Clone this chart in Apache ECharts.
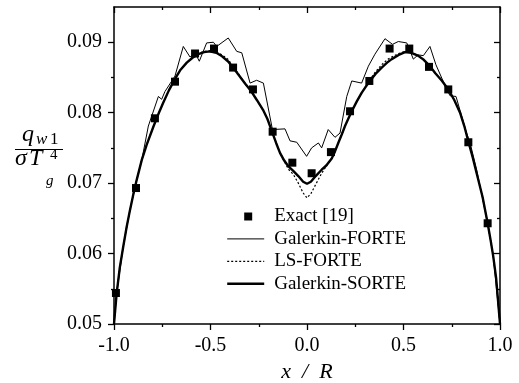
<!DOCTYPE html>
<html>
<head>
<meta charset="utf-8">
<script src="https://cdn.jsdelivr.net/npm/echarts@6/dist/echarts.min.js"></script>
<style>
  html, body { margin: 0; padding: 0; background: #fff; }
  #chart { width: 519px; height: 383px; }
</style>
</head>
<body>
<div id="chart"></div>
<script>
// ---- data ----
var xTicks = [-1.0, -0.5, 0.0, 0.5, 1.0];
var yTicks = [0.05, 0.06, 0.07, 0.08, 0.09];
var yMinorTicks = [0.055, 0.065, 0.075, 0.085];
var seriesNames = ['Exact [19]', 'Galerkin-FORTE', 'LS-FORTE', 'Galerkin-SORTE'];

var exactX = [-0.990, -0.886, -0.788, -0.684, -0.580, -0.482, -0.383, -0.280, -0.178, -0.076,
              0.024, 0.124, 0.223, 0.323, 0.428, 0.530, 0.632, 0.732, 0.836, 0.936];
var exactY = [0.0544, 0.0693, 0.0792, 0.0844, 0.0884, 0.0891, 0.0864, 0.0833, 0.0773, 0.0729,
              0.0714, 0.0744, 0.0802, 0.0845, 0.0891, 0.0891, 0.0865, 0.0833, 0.0758, 0.0643];

var forteX = [-1.000, -0.986, -0.952, -0.917, -0.882, -0.856, -0.822, -0.770, -0.753, -0.736,
              -0.684, -0.641, -0.606, -0.580, -0.558, -0.520, -0.485, -0.468, -0.408, -0.364,
              -0.338, -0.295, -0.261, -0.226, -0.179, -0.114, -0.088, -0.053, -0.002, 0.024,
              0.059, 0.076, 0.110, 0.145, 0.171, 0.206, 0.232, 0.283, 0.318, 0.352,
              0.404, 0.443, 0.473, 0.517, 0.551, 0.575, 0.603, 0.637, 0.668, 0.724,
              0.741, 0.772, 0.827, 0.845, 0.879, 0.936, 0.965, 1.000];
var forteY = [0.0500, 0.0544, 0.0610, 0.0662, 0.0705, 0.0733, 0.0781, 0.0823, 0.0819, 0.0830,
              0.0852, 0.0894, 0.0879, 0.0885, 0.0873, 0.0899, 0.0900, 0.0894, 0.0906, 0.0887,
              0.0885, 0.0842, 0.0846, 0.0842, 0.0776, 0.0777, 0.0760, 0.0758, 0.0738, 0.0750,
              0.0757, 0.0750, 0.0776, 0.0765, 0.0771, 0.0823, 0.0845, 0.0842, 0.0866, 0.0883,
              0.0905, 0.0897, 0.0901, 0.0899, 0.0876, 0.0882, 0.0881, 0.0894, 0.0868, 0.0833,
              0.0824, 0.0823, 0.0771, 0.0757, 0.0719, 0.0643, 0.0596, 0.0500];

var sorteX = [-1.000, -0.986, -0.970, -0.952, -0.935, -0.917, -0.900, -0.882, -0.856, -0.830,
              -0.796, -0.770, -0.745, -0.715, -0.684, -0.655, -0.623, -0.593, -0.563, -0.533,
              -0.503, -0.470, -0.440, -0.410, -0.383, -0.350, -0.320, -0.288, -0.260, -0.228,
              -0.205, -0.185, -0.160, -0.140, -0.118, -0.097, -0.070, -0.045, -0.020, 0.000,
              0.020, 0.045, 0.076, 0.100, 0.128, 0.145, 0.162, 0.180, 0.197, 0.215,
              0.232, 0.258, 0.283, 0.305, 0.326, 0.355, 0.387, 0.415, 0.439, 0.475,
              0.508, 0.540, 0.575, 0.605, 0.637, 0.665, 0.700, 0.732, 0.763, 0.793,
              0.815, 0.836, 0.858, 0.879, 0.910, 0.936, 0.952, 0.965, 0.980, 1.000];
var sorteY = [0.0500, 0.0544, 0.0580, 0.0610, 0.0637, 0.0662, 0.0684, 0.0705, 0.0733, 0.0755,
              0.0780, 0.0798, 0.0814, 0.0832, 0.0848, 0.0861, 0.0871, 0.0878, 0.0883, 0.0886,
              0.0887, 0.0885, 0.0880, 0.0873, 0.0864, 0.0852, 0.0841, 0.0830, 0.0818, 0.0804,
              0.0791, 0.0776, 0.0757, 0.0743, 0.0732, 0.0724, 0.0717, 0.0710, 0.0702, 0.0699,
              0.0702, 0.0710, 0.0719, 0.0725, 0.0735, 0.0745, 0.0757, 0.0769, 0.0781, 0.0792,
              0.0802, 0.0816, 0.0828, 0.0837, 0.0845, 0.0855, 0.0864, 0.0871, 0.0876, 0.0882,
              0.0886, 0.0885, 0.0881, 0.0875, 0.0866, 0.0856, 0.0845, 0.0833, 0.0818, 0.0800,
              0.0781, 0.0759, 0.0737, 0.0714, 0.0680, 0.0643, 0.0618, 0.0596, 0.0565, 0.0500];

var lsX = sorteX;
var lsY = [0.0500, 0.0544, 0.0580, 0.0610, 0.0637, 0.0662, 0.0684, 0.0705, 0.0733, 0.0755,
           0.0780, 0.0798, 0.0814, 0.0832, 0.0848, 0.0861, 0.0871, 0.0879, 0.0884, 0.0887,
           0.0888, 0.0886, 0.0882, 0.0876, 0.0866, 0.0853, 0.0841, 0.0830, 0.0818, 0.0804,
           0.0791, 0.0776, 0.0757, 0.0743, 0.0731, 0.0720, 0.0712, 0.0700, 0.0686, 0.0679,
           0.0685, 0.0698, 0.0714, 0.0724, 0.0735, 0.0745, 0.0757, 0.0769, 0.0781, 0.0792,
           0.0802, 0.0816, 0.0828, 0.0838, 0.0847, 0.0858, 0.0868, 0.0875, 0.0879, 0.0884,
           0.0887, 0.0886, 0.0881, 0.0875, 0.0866, 0.0856, 0.0845, 0.0833, 0.0818, 0.0800,
           0.0781, 0.0759, 0.0737, 0.0714, 0.0680, 0.0643, 0.0618, 0.0596, 0.0565, 0.0500];

function zip(xs, ys) { return xs.map(function (x, i) { return [x, ys[i]]; }); }

var FONT = '"Liberation Serif", "Times New Roman", serif';
var black = '#000';

var chart = echarts.init(document.getElementById('chart'), null, { renderer: 'canvas' });

function xAxisBase(pos, inside, showLabel) {
  return {
    type: 'value', position: pos, min: -1, max: 1, interval: 0.5,
    axisLine: { show: true, onZero: false, lineStyle: { color: black, width: 1.5 } },
    axisTick: { show: true, inside: inside, length: 6, lineStyle: { color: black, width: 1.3 } },
    minorTick: { show: true, splitNumber: 2, length: 3, lineStyle: { color: black, width: 1.3 } },
    splitLine: { show: false },
    axisLabel: {
      show: showLabel, margin: 12, color: black, fontFamily: FONT, fontSize: 20,
      formatter: function (v) { return v.toFixed(1); }
    }
  };
}
function yAxisBase(pos, inside, ticks, len, showLine, showLabel) {
  return {
    type: 'value', position: pos, min: 0.05, max: 0.095, interval: 0.01,
    axisLine: { show: showLine, onZero: false, lineStyle: { color: black, width: 1.5 } },
    axisTick: { show: true, inside: inside, length: len, customValues: ticks,
                lineStyle: { color: black, width: 1.3 } },
    splitLine: { show: false },
    axisLabel: {
      show: showLabel, margin: 12, color: black, fontFamily: FONT, fontSize: 20,
      customValues: yTicks,
      formatter: function (v) { return v.toFixed(2); }
    }
  };
}

var bottomX = xAxisBase('bottom', false, true);
bottomX.name = 'x  /  R';
bottomX.nameLocation = 'middle';
bottomX.nameGap = 36;
bottomX.nameTextStyle = { color: black, fontFamily: FONT, fontSize: 22, fontStyle: 'italic' };

var hiddenSymbol = { opacity: 0 };

var option = {
  animation: false,
  backgroundColor: '#fff',
  grid: { left: 114, top: 7, width: 386, height: 317, containLabel: false, outerBoundsMode: 'none' },
  xAxis: [bottomX, xAxisBase('top', true, false)],
  yAxis: [
    yAxisBase('left', false, yTicks, 6, true, true),
    yAxisBase('left', false, yMinorTicks, 3, false, false),
    yAxisBase('right', true, yTicks, 6, true, false),
    yAxisBase('right', true, yMinorTicks, 3, false, false)
  ],
  legend: {
    orient: 'vertical', left: 226, top: 207, padding: 0,
    itemWidth: 37, itemHeight: 14, itemGap: 3.4,
    symbolKeepAspect: true,
    textStyle: { color: black, fontFamily: FONT, fontSize: 19, padding: [0, 0, 0, 5] },
    data: [
      { name: seriesNames[0], icon: 'path://M0,0M37,14M17,3H25V11H17Z' },
      { name: seriesNames[1], itemStyle: hiddenSymbol, lineStyle: { width: 1 } },
      { name: seriesNames[2], itemStyle: hiddenSymbol, lineStyle: { width: 1.2, type: [2, 2] } },
      { name: seriesNames[3], itemStyle: hiddenSymbol, lineStyle: { width: 2.4 } }
    ]
  },
  series: [
    {
      name: seriesNames[1], type: 'line', data: zip(forteX, forteY),
      symbol: 'none', z: 2,
      lineStyle: { color: black, width: 1 }, itemStyle: { color: black }
    },
    {
      name: seriesNames[2], type: 'line', data: zip(lsX, lsY),
      symbol: 'none', z: 3,
      lineStyle: { color: black, width: 1.2, type: [2, 2] }, itemStyle: { color: black }
    },
    {
      name: seriesNames[3], type: 'line', data: zip(sorteX, sorteY),
      symbol: 'none', z: 4,
      lineStyle: { color: black, width: 2.4 }, itemStyle: { color: black }
    },
    {
      name: seriesNames[0], type: 'scatter', data: zip(exactX, exactY),
      symbol: 'rect', symbolSize: 8, z: 5,
      itemStyle: { color: black, opacity: 1 }
    }
  ],
  graphic: [
    { type: 'text', x: 22, y: 134.5, style: { text: 'q', font: 'italic 24px ' + FONT, fill: black, verticalAlign: 'middle' } },
    { type: 'text', x: 36, y: 140, style: { text: 'w', font: 'italic 17px ' + FONT, fill: black, verticalAlign: 'middle' } },
    { type: 'text', x: 50, y: 140, style: { text: '1', font: '17px ' + FONT, fill: black, verticalAlign: 'middle' } },
    { type: 'line', shape: { x1: 15, y1: 149.5, x2: 63, y2: 149.5 }, style: { stroke: black, lineWidth: 1 } },
    { type: 'text', x: 15, y: 159, style: { text: '\u03C3', font: 'italic 24px ' + FONT, fill: black, verticalAlign: 'middle' } },
    { type: 'text', x: 29, y: 159, style: { text: 'T', font: 'italic 24px ' + FONT, fill: black, verticalAlign: 'middle' } },
    { type: 'text', x: 50, y: 155, style: { text: '4', font: '15px ' + FONT, fill: black, verticalAlign: 'middle' } },
    { type: 'text', x: 46, y: 181, style: { text: 'g', font: 'italic 15px ' + FONT, fill: black, verticalAlign: 'middle' } }
  ]
};

chart.setOption(option);
</script>
</body>
</html>
